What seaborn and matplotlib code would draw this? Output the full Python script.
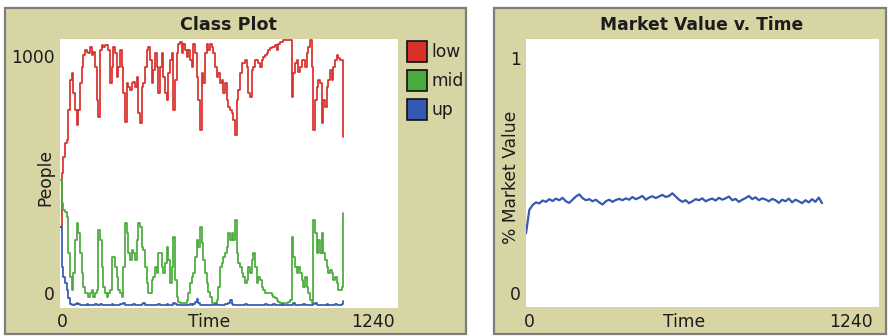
import numpy as np
import pandas as pd
import matplotlib
matplotlib.use("Agg")
import matplotlib.pyplot as plt
from matplotlib.patches import Rectangle
import seaborn as sns

# ---- data -------------------------------------------------------------
T_END = 1040          # last tick simulated
X_MAX = 1240          # x-range of both plots

low_class = [
    297, 497, 559, 609, 621, 734, 846, 871, 796, 734, 678, 734, 834, 896, 940, 958,
    952, 946, 971, 940, 952, 896, 771, 709, 958, 977, 971, 977, 977, 958, 834, 896,
    971, 946, 859, 896, 958, 896, 796, 690, 834, 821, 809, 834, 840, 821, 859, 721,
    684, 821, 834, 896, 958, 971, 921, 834, 884, 946, 896, 796, 896, 946, 859, 796,
    771, 871, 921, 946, 734, 846, 946, 983, 990, 946, 983, 958, 933, 958, 921, 896,
    983, 946, 859, 771, 659, 871, 834, 946, 983, 958, 983, 971, 946, 896, 859, 871,
    834, 846, 796, 834, 771, 746, 734, 721, 696, 640, 771, 809, 871, 909, 909, 921,
    896, 796, 784, 884, 896, 921, 921, 909, 896, 921, 933, 940, 946, 958, 965, 971,
    971, 977, 958, 983, 990, 990, 996, 996, 996, 996, 996, 784, 871, 909, 921, 877,
    896, 921, 921, 896, 946, 971, 996, 896, 659, 771, 821, 846, 834, 684, 771, 746,
    821, 846, 884, 846, 896, 921, 940, 927, 921, 921, 634,
]

mid_class = [
    472, 384, 359, 353, 334, 197, 110, 60, 122, 247, 309, 272, 197, 122, 72, 47,
    47, 35, 47, 60, 35, 47, 60, 285, 247, 147, 72, 47, 35, 47, 60, 185,
    185, 147, 110, 60, 47, 35, 147, 309, 272, 197, 172, 210, 197, 172, 247, 309,
    297, 222, 210, 147, 85, 47, 47, 97, 110, 147, 122, 197, 197, 147, 122, 160,
    222, 172, 85, 147, 260, 97, 35, 16, 10, 10, 10, 10, 22, 47, 85, 110,
    122, 185, 247, 222, 297, 235, 172, 122, 85, 54, 35, 10, 10, 10, 22, 72,
    147, 160, 185, 197, 222, 272, 247, 272, 247, 322, 197, 160, 147, 122, 110, 85,
    97, 147, 122, 172, 197, 147, 85, 110, 97, 72, 60, 47, 47, 47, 47, 41,
    35, 29, 22, 16, 10, 10, 10, 10, 10, 16, 22, 260, 185, 147, 122, 147,
    122, 97, 72, 110, 72, 47, 22, 10, 322, 272, 197, 247, 197, 272, 197, 172,
    147, 122, 135, 122, 97, 110, 85, 60, 60, 72, 347,
]

up_class = [
    297, 147, 110, 85, 60, 29, 7,
    5, 4, 6, 12, 8, 4, 3, 5, 4, 6,
    4, 3, 5, 4, 7, 4, 3, 9, 5, 4,
    3, 4, 5, 4, 6, 4, 3, 5, 4, 6,
    8, 12, 5, 4, 3, 5, 4, 6, 4, 5,
    4, 3, 6, 10, 5, 4, 3, 5, 4, 4,
    5, 4, 6, 4, 3, 5, 4, 7, 4, 3,
    5, 12, 6, 4, 3, 5, 4, 3, 4, 5,
    4, 6, 5, 9, 14, 28, 10, 5, 4, 3,
    4, 5, 4, 3, 5, 4, 6, 4, 3, 4,
    5, 4, 6, 8, 12, 24, 9, 5, 4, 3,
    4, 3, 5, 4, 6, 4, 3, 4, 5, 4,
    3, 4, 5, 4, 3, 4, 6, 4, 3, 4,
    5, 8, 4, 3, 5, 4, 9, 4, 3, 4,
    5, 4, 3, 10, 5, 4, 3, 5, 4, 6,
    4, 3, 5, 4, 3, 9, 12, 5, 4, 3,
    5, 4, 3, 6, 4, 5, 4, 3, 6, 4,
    5, 4, 8, 20,
]

market_value = [
    0.272, 0.360, 0.378, 0.388, 0.384, 0.395, 0.390, 0.400, 0.393, 0.402,
    0.396, 0.405, 0.392, 0.386, 0.398, 0.410, 0.418, 0.404, 0.396, 0.400,
    0.392, 0.398, 0.388, 0.380, 0.392, 0.398, 0.390, 0.397, 0.401, 0.396,
    0.403, 0.398, 0.408, 0.400, 0.405, 0.412, 0.398, 0.406, 0.411, 0.404,
    0.410, 0.416, 0.408, 0.412, 0.422, 0.410, 0.398, 0.390, 0.396, 0.385,
    0.392, 0.400, 0.396, 0.403, 0.392, 0.398, 0.402, 0.395, 0.405, 0.398,
    0.403, 0.410, 0.396, 0.401, 0.390, 0.398, 0.404, 0.412, 0.400, 0.407,
    0.396, 0.403, 0.399, 0.392, 0.401, 0.396, 0.386, 0.398, 0.392, 0.402,
    0.388, 0.398, 0.392, 0.385, 0.396, 0.388, 0.400, 0.390, 0.406, 0.385,
]

class_names = ["low", "mid", "up"]
class_colors = {"low": "#d9302a", "mid": "#4aaa3c", "up": "#3558b0"}

# ---- styling ----------------------------------------------------------
sns.set_style("white")
plt.rcParams["font.family"] = ["DejaVu Sans"]
PANEL = "#d8d5a4"
EDGE = "#7d7d7d"
INK = "#1c1c1c"

W, H = 888, 336
fig = plt.figure(figsize=(W / 100, H / 100), dpi=100)
fig.patch.set_facecolor("white")


def px(x, y):
    """pixel position (from top-left) -> figure fraction"""
    return x / W, 1 - y / H


def panel(x0, y0, x1, y1):
    fx0, fy1 = px(x0, y0)
    fx1, fy0 = px(x1, y1)
    fig.patches.append(Rectangle((fx0, fy0), fx1 - fx0, fy1 - fy0,
                                 transform=fig.transFigure, facecolor=PANEL,
                                 edgecolor=EDGE, linewidth=1.6, zorder=-5))


def plot_axes(x0, y0, x1, y1):
    fx0, fy1 = px(x0, y0)
    fx1, fy0 = px(x1, y1)
    ax = fig.add_axes([fx0, fy0, fx1 - fx0, fy1 - fy0])
    ax.set_facecolor("white")
    for s in ax.spines.values():
        s.set_visible(False)
    return ax


def bare(ax):
    ax.set_xticks([])
    ax.set_yticks([])
    ax.set_xlabel("")
    ax.set_ylabel("")


def label(x, y, s, **kw):
    fx, fy = px(x, y)
    kw.setdefault("fontsize", 12.3)
    kw.setdefault("color", INK)
    fig.text(fx, fy, s, **kw)


# ---- left panel: class plot ------------------------------------------
panel(5, 8, 466, 334)
ax1 = plot_axes(60, 39, 398, 308)

frames = []
for name, vals in zip(class_names, [low_class, mid_class, up_class]):
    frames.append(pd.DataFrame({
        "Time": np.linspace(0, T_END, len(vals)),
        "People": vals,
        "class": name,
    }))
classes = pd.concat(frames, ignore_index=True)
sns.lineplot(data=classes, x="Time", y="People", hue="class",
             hue_order=class_names, palette=class_colors,
             drawstyle="steps-post", linewidth=1.25, legend=False, ax=ax1)
ax1.set_xlim(0, X_MAX)
ax1.set_ylim(-7.5, 1000)
bare(ax1)

label(228, 25, "Class Plot", ha="center", va="center", fontweight="bold", fontsize=12.6)
label(55, 58, "1000", ha="right", va="center")
label(55, 295, "0", ha="right", va="center")
label(45, 177, "People", ha="center", va="center", rotation=90)
label(62, 322, "0", ha="center", va="center")
label(209, 322, "Time", ha="center", va="center")
label(395, 322, "1240", ha="right", va="center")

# legend swatches
for i, name in enumerate(class_names):
    top = 41 + i * 29
    fx0, fy1 = px(407, top)
    fx1, fy0 = px(427, top + 21)
    fig.patches.append(Rectangle((fx0, fy0), fx1 - fx0, fy1 - fy0,
                                 transform=fig.transFigure,
                                 facecolor=class_colors[name], edgecolor="#111111",
                                 linewidth=1.2, zorder=2))
    label(431, top + 11, name, ha="left", va="center")

# ---- right panel: market value ---------------------------------------
panel(494, 8, 886, 334)
ax2 = plot_axes(526, 39, 879, 307)
market = pd.DataFrame({
    "Time": np.linspace(0, T_END, len(market_value)),
    "% Market Value": market_value,
})
sns.lineplot(data=market, x="Time", y="% Market Value", color="#3558b0",
             linewidth=1.6, ax=ax2)
ax2.set_xlim(0, X_MAX)
ax2.set_ylim(-0.004, 1.0)
bare(ax2)

label(702, 25, "Market Value v. Time", ha="center", va="center", fontweight="bold", fontsize=12.3)
label(521, 60, "1", ha="right", va="center")
label(521, 295, "0", ha="right", va="center")
label(511, 177, "% Market Value", ha="center", va="center", rotation=90)
label(529, 322, "0", ha="center", va="center")
label(684, 322, "Time", ha="center", va="center")
label(873, 322, "1240", ha="right", va="center")

fig.savefig("out.png", dpi=100, facecolor="white")
